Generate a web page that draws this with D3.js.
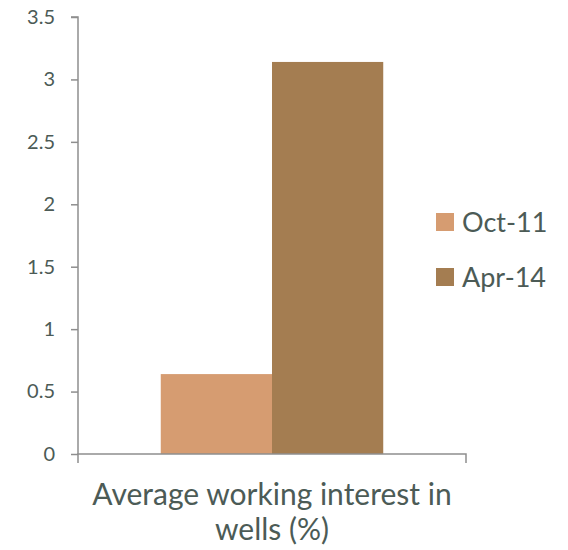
<!DOCTYPE html>
<html>
<head>
<meta charset="utf-8">
<script src="https://cdn.jsdelivr.net/npm/d3@7"></script>
<style>
  html, body { margin: 0; padding: 0; background: #fff; }
  svg { display: block; font-family: Lato, "Open Sans", sans-serif; }
</style>
</head>
<body>
<svg id="chart" width="568" height="550"></svg>
<script>
// Chart data
const categories = ["Average working interest in wells (%)"];
const seriesNames = ["Oct-11", "Apr-14"];
const oct11Values = [0.64];
const apr14Values = [3.14];
const yTickValues = [0, 0.5, 1, 1.5, 2, 2.5, 3, 3.5];
const seriesColors = ["#D69C71", "#A47D51"];

const textColor = "#4C5B56";
const axisColor = "#8E8E8E";
const fontFamily = "Lato, 'Open Sans', sans-serif";

const svg = d3.select("#chart");
const plot = { left: 78, right: 466, top: 17, bottom: 454 };

// One category band, split into two touching series bars
const x0 = d3.scaleBand().domain(categories).range([plot.left, plot.right]).paddingInner(0).paddingOuter(0.372);
const x1 = d3.scaleBand().domain(seriesNames).range([0, x0.bandwidth()]).padding(0);
const y = d3.scaleLinear().domain([0, 3.5]).range([plot.bottom, plot.top]);

const rows = categories.map((c, i) => ({
  category: c,
  values: [
    { series: seriesNames[0], value: oct11Values[i] },
    { series: seriesNames[1], value: apr14Values[i] }
  ]
}));
const color = d3.scaleOrdinal().domain(seriesNames).range(seriesColors);

// Bars
svg.append("g").selectAll("g")
  .data(rows).join("g")
  .attr("transform", d => `translate(${x0(d.category)},0)`)
  .selectAll("rect")
  .data(d => d.values).join("rect")
  .attr("x", d => x1(d.series))
  .attr("width", x1.bandwidth())
  .attr("y", d => y(d.value))
  .attr("height", d => y(0) - y(d.value))
  .attr("fill", d => color(d.series));

// Y axis
const yAxis = svg.append("g")
  .attr("transform", `translate(${plot.left},0)`)
  .call(d3.axisLeft(y).tickValues(yTickValues).tickSize(7).tickPadding(16).tickFormat(d3.format("~g")));
yAxis.attr("font-size", null).attr("font-family", null);
yAxis.select(".domain").attr("stroke", axisColor).attr("stroke-width", 1.5).attr("d", `M-7,${plot.top}H0V${plot.bottom}`);
yAxis.selectAll(".tick line").attr("stroke", axisColor).attr("stroke-width", 1.5);
yAxis.selectAll(".tick text").attr("fill", textColor).attr("font-size", 20).attr("font-family", fontFamily);

// X axis
const xAxis = svg.append("g")
  .attr("transform", `translate(0,${plot.bottom})`);
xAxis.append("path")
  .attr("d", `M${plot.left},9V0H${plot.right}V9`)
  .attr("fill", "none").attr("stroke", axisColor).attr("stroke-width", 1.5);

// Category label, wrapped onto two lines
const labelLines = ["Average working interest in", "wells (%)"];
const cx = x0(categories[0]) + x0.bandwidth() / 2;
const label = svg.append("text")
  .attr("x", cx)
  .attr("y", 505)
  .attr("text-anchor", "middle")
  .attr("fill", textColor)
  .attr("font-size", 30);
label.selectAll("tspan").data(labelLines).join("tspan")
  .attr("x", cx)
  .attr("dy", (d, i) => i === 0 ? 0 : 35)
  .text(d => d);

// Legend
const legend = svg.append("g").selectAll("g")
  .data(seriesNames).join("g")
  .attr("transform", (d, i) => `translate(436,${213 + i * 55})`);
legend.append("rect").attr("width", 18).attr("height", 18).attr("fill", d => color(d));
legend.append("text")
  .attr("x", 26).attr("y", 19)
  .attr("fill", textColor).attr("font-size", 27)
  .text(d => d);
</script>
</body>
</html>
